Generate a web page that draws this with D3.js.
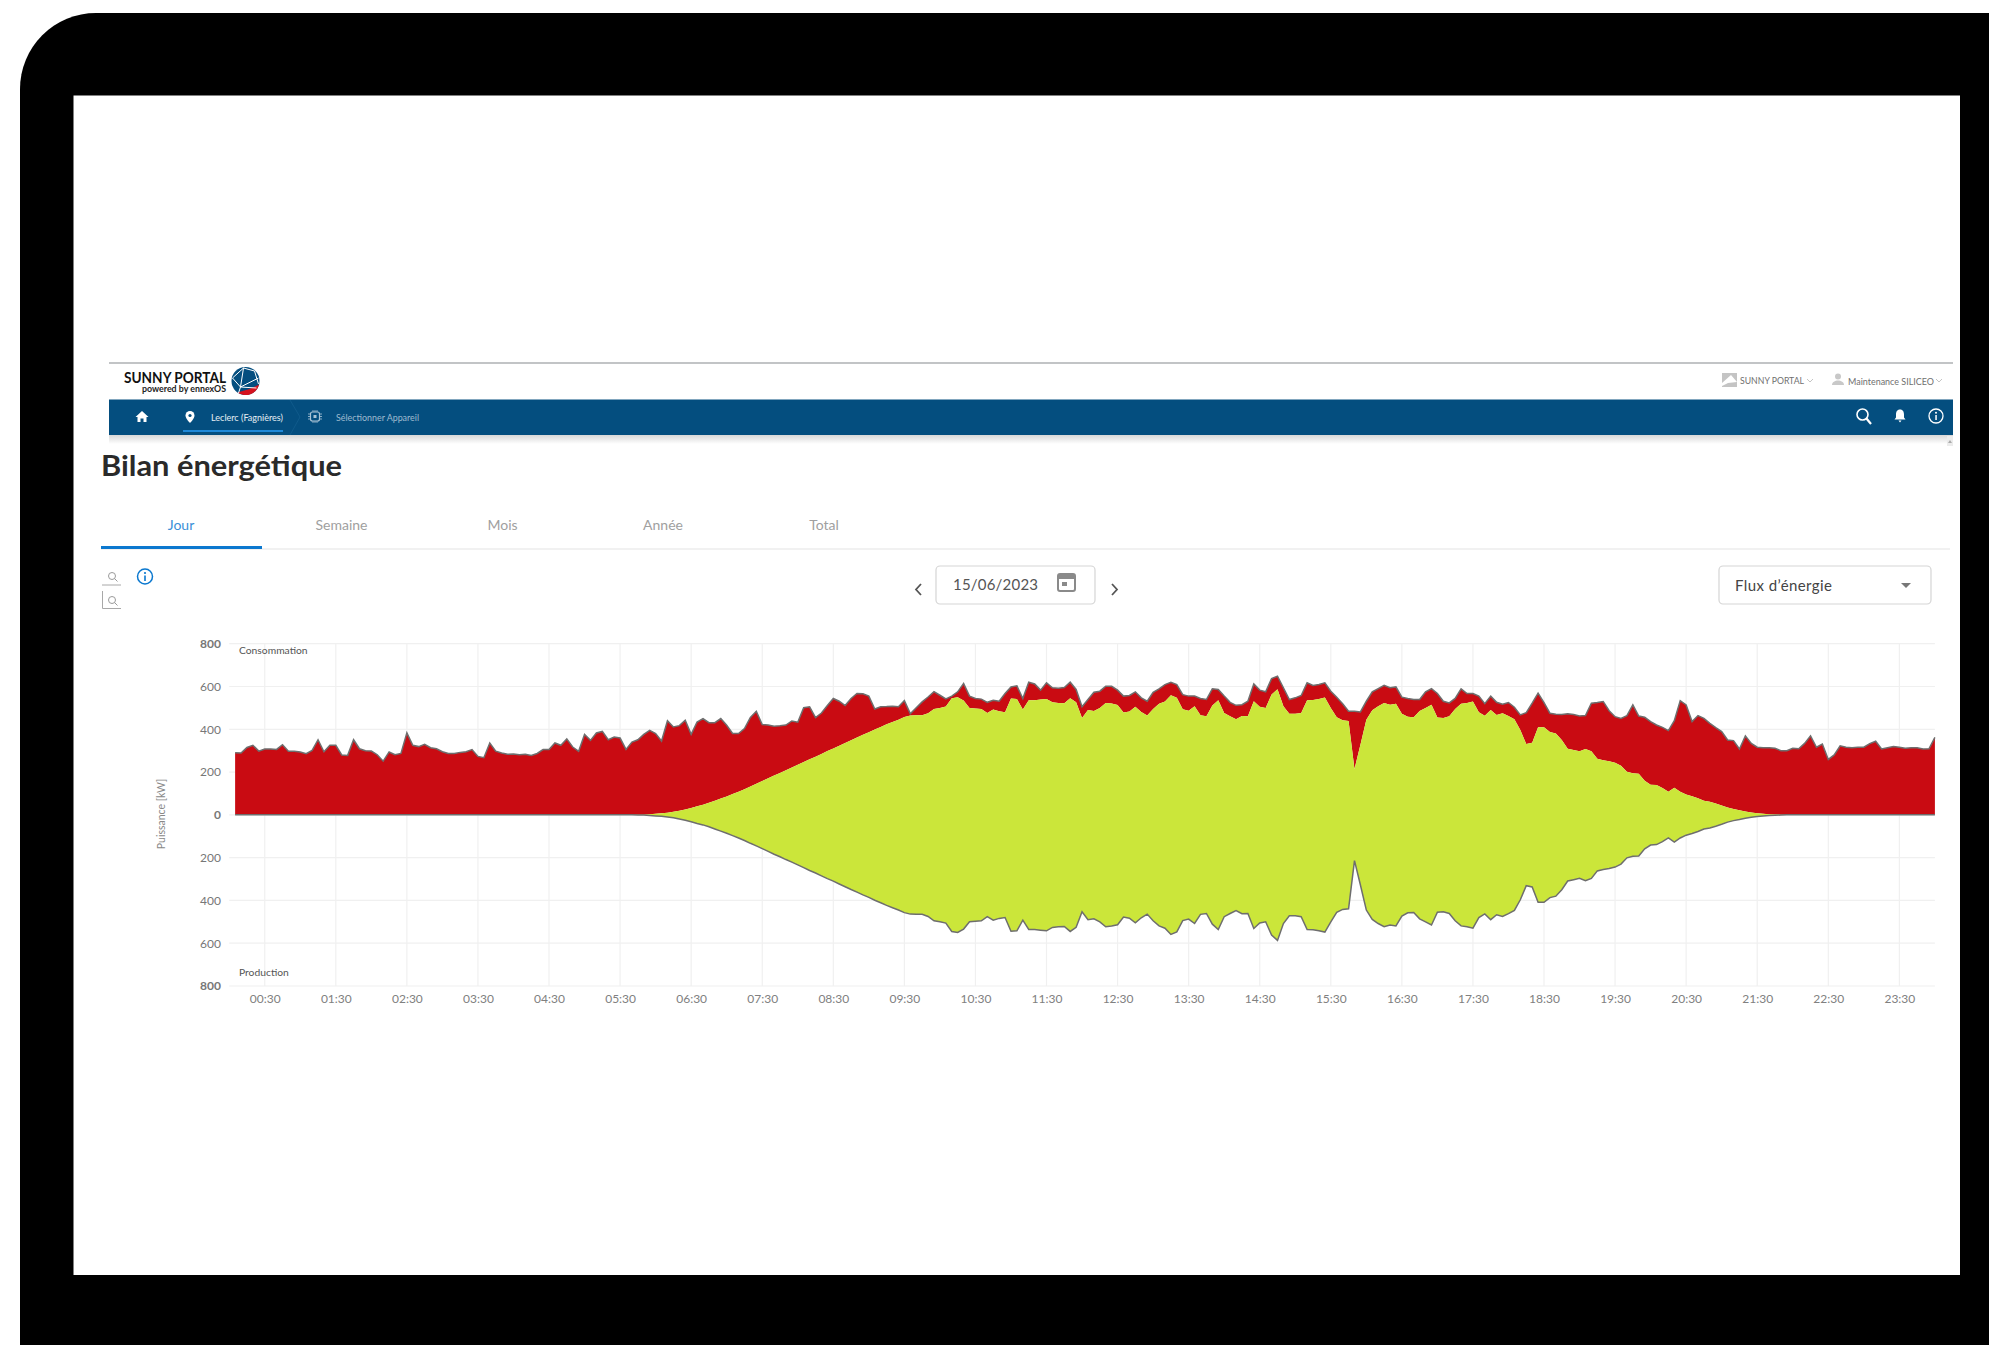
<!DOCTYPE html>
<html lang="fr"><head><meta charset="utf-8"><title>Bilan énergétique</title>
<script src="https://d3js.org/d3.v7.min.js"></script>
<style>html,body{margin:0;padding:0;background:#fff;overflow:hidden}svg{display:block}text{font-family:Lato,"Noto Sans",sans-serif}</style>
</head><body><svg id="c" width="1989" height="1345"></svg>
<script>
const xTickMinutes=[30,90,150,210,270,330,390,450,510,570,630,690,750,810,870,930,990,1050,1110,1170,1230,1290,1350,1410];
const xTickLabels=["00:30","01:30","02:30","03:30","04:30","05:30","06:30","07:30","08:30","09:30","10:30","11:30","12:30","13:30","14:30","15:30","16:30","17:30","18:30","19:30","20:30","21:30","22:30","23:30"];
const yTicks=[800,600,400,200,0,-200,-400,-600,-800];
const tabs=["Jour","Semaine","Mois","Année","Total"];
// kW, one reading every 5 minutes from 00:05
const consumption=[290,289,315,325,298,308,308,306,328,297,297,294,286,301,351,295,325,325,280,278,351,309,300,298,281,251,294,281,287,383,325,319,330,314,309,295,287,287,292,295,305,273,267,336,298,289,283,284,281,283,278,287,305,305,336,325,355,317,297,376,348,383,390,351,364,359,306,340,351,376,395,380,345,440,411,417,442,376,434,450,431,431,450,419,380,380,403,455,484,422,420,414,416,420,439,433,501,505,455,476,511,544,531,511,544,567,566,555,495,505,506,508,505,534,473,501,528,551,576,559,542,555,575,614,555,544,541,526,536,531,567,598,603,544,620,612,583,617,594,592,595,620,586,505,539,573,578,601,601,583,555,558,575,547,531,573,589,609,620,609,562,555,555,544,539,589,586,555,526,512,515,531,612,583,575,637,648,594,539,547,558,617,605,609,617,578,550,519,484,484,481,531,575,590,605,594,598,550,544,539,539,575,590,567,531,523,544,589,567,567,555,520,555,526,517,525,503,467,478,522,569,525,475,470,469,473,469,462,464,522,525,530,487,459,451,464,514,462,456,436,420,409,394,440,534,514,436,464,451,428,408,389,350,347,308,369,334,316,314,314,311,300,300,311,309,334,369,316,331,259,280,323,316,314,316,316,333,344,308,314,319,316,311,314,314,308,309,362];
const production=[0,0,0,0,0,0,0,0,0,0,0,0,0,0,0,0,0,0,0,0,0,0,0,0,0,0,0,0,0,0,0,0,0,0,0,0,0,0,0,0,0,0,0,0,0,0,0,0,0,0,0,0,0,0,0,0,0,0,0,0,0,0,0,0,0,0,0,0,1,1,3,5,7,10,14,19,25,32,40,47,56,66,76,86,97,108,120,133,145,158,171,184,196,209,221,234,247,260,272,285,298,310,323,336,349,361,374,386,399,411,423,434,445,457,464,465,465,475,495,500,506,545,550,534,500,497,495,476,492,484,480,544,542,492,536,536,539,542,526,523,522,545,526,453,490,486,500,523,520,514,478,483,505,481,464,495,519,530,559,547,494,487,508,465,461,511,536,476,461,447,462,461,531,505,500,562,587,508,472,472,476,536,537,542,548,500,456,442,439,214,328,445,489,508,523,515,519,473,458,456,486,500,515,455,453,461,495,519,523,530,480,463,490,467,475,462,447,397,331,337,409,409,387,380,350,309,303,297,308,297,262,255,251,244,230,201,194,192,159,141,139,125,108,127,108,95,87,78,66,61,53,44,34,27,22,16,11,8,5,3,2,1,0,0,0,0,0,0,0,0,0,0,0,0,0,0,0,0,0,0,0,0,0,0,0,0,0,0,0,0];

const minutes=d3.range(consumption.length).map(i=>5+5*i);
const svg=d3.select("#c");
const NAVY="#044e7f",BLUE="#0b78cf";
const T=(x,y,s,size,fill,anchor="start",weight=400)=>svg.append("text").attr("x",x).attr("y",y).attr("font-size",size).attr("fill",fill).attr("text-anchor",anchor).attr("font-weight",weight).text(s);

// device frame
svg.append("rect").attr("x",20).attr("y",13).attr("width",2100).attr("height",1500).attr("rx",76).attr("fill","#000");
svg.append("rect").attr("x",73.5).attr("y",95.5).attr("width",1886.5).attr("height",1179.5).attr("fill","#fff");

// page header
svg.append("line").attr("x1",109).attr("x2",1953).attr("y1",363).attr("y2",363).attr("stroke","#858a8d").attr("stroke-width",1.2);
T(124,383,"SUNNY PORTAL",14.5,"#111","start",700).attr("textLength",102).attr("lengthAdjust","spacingAndGlyphs");
T(226,392,"powered by ennexOS",9.5,"#222","end",700).attr("textLength",84).attr("lengthAdjust","spacingAndGlyphs");
const globe=svg.append("g").attr("transform","translate(245.5,381)");
globe.append("circle").attr("r",14).attr("fill",NAVY);
globe.append("path").attr("d","M-8 11.5A14 14 0 0 0 13.6 3.5L4 8Z").attr("fill","#d5121e");
globe.append("path").attr("d","M-2 -13L-5 6L13 -3M-2 -13L9 -10L13 3M-13 -3L-5 6L-7 12M-5 6L11 7M-2 -13L-13 -3").attr("stroke","#fff").attr("stroke-width",1).attr("fill","none");

T(1740,384,"SUNNY PORTAL",9,"#6f6f6f").attr("textLength",64).attr("lengthAdjust","spacingAndGlyphs");
svg.append("rect").attr("x",1722).attr("y",373).attr("width",15).attr("height",14).attr("fill","#c4c4c4");
svg.append("path").attr("d","M1722 383L1731 375L1737 382L1728 383L1722 386Z").attr("fill","#fff");
svg.append("path").attr("d","M1807 379l3 3l3 -3M1936 379l3 3l3 -3").attr("stroke","#c4c4c4").attr("fill","none");
svg.append("circle").attr("cx",1838).attr("cy",376.5).attr("r",3).attr("fill","#c8c8c8");
svg.append("path").attr("d","M1832 385c0-6 12-6 12 0Z").attr("fill","#c8c8c8");
T(1848,384.5,"Maintenance SILICEO",9,"#6f6f6f").attr("textLength",86).attr("lengthAdjust","spacingAndGlyphs");

// nav bar
const shadow=svg.append("defs").append("linearGradient").attr("id","sh").attr("x2",0).attr("y2",1);
shadow.append("stop").attr("offset",0).attr("stop-color","#d8d8d8");
shadow.append("stop").attr("offset",1).attr("stop-color","#fff");
svg.append("rect").attr("x",109).attr("y",435).attr("width",1844).attr("height",9).attr("fill","url(#sh)");
svg.append("rect").attr("x",109).attr("y",399.5).attr("width",1844).attr("height",35.5).attr("fill",NAVY);
svg.append("path").attr("d","M142 411l-6.5 6h2v5h3v-3.5h3V422h3v-5h2z").attr("fill","#fff");
svg.append("path").attr("d","M190 411a4.5 4.5 0 0 1 4.5 4.5c0 3-4.5 7.500-4.500 7.500s-4.500-4.500-4.500-7.500a4.500 4.500 0 0 1 4.500-4.500z").attr("fill","#fff");
svg.append("circle").attr("cx",190).attr("cy",415.5).attr("r",1.6).attr("fill",NAVY);
T(211,421,"Leclerc (Fagnières)",9.5,"#e6eef4").attr("textLength",72).attr("lengthAdjust","spacingAndGlyphs");
svg.append("rect").attr("x",183).attr("y",430).attr("width",100).attr("height",2).attr("fill","#1e88d8");
svg.append("path").attr("d","M290 400L300 417L290 435").attr("stroke","#0f5a8b").attr("fill","none");
svg.append("rect").attr("x",310.5).attr("y",412).attr("width",9).attr("height",9).attr("rx",2).attr("stroke","#a9c3d5").attr("fill","none").attr("stroke-width",1.2);
svg.append("rect").attr("x",313.5).attr("y",415).attr("width",3).attr("height",3).attr("fill","#a9c3d5");
svg.append("path").attr("d","M308 414h2M308 416.5h2M308 419h2M320 414h2M320 416.5h2M320 419h2M313 410v2M315 410v2M317 410v2M313 421v2M315 421v2M317 421v2").attr("stroke","#a9c3d5").attr("stroke-width",0.8);
T(336,421,"Sélectionner Appareil",9.5,"#9fbbcf").attr("textLength",83).attr("lengthAdjust","spacingAndGlyphs");
svg.append("circle").attr("cx",1862.5).attr("cy",414.5).attr("r",5.5).attr("stroke","#fff").attr("stroke-width",1.6).attr("fill","none");
svg.append("line").attr("x1",1866.5).attr("y1",418.5).attr("x2",1871).attr("y2",424).attr("stroke","#fff").attr("stroke-width",2.2);
svg.append("path").attr("d","M1900 409.5c3 0 4 2.500 4 5v3l1.500 2h-11l1.500-2v-3c0-2.500 1-5 4-5zM1898.500 420.500h3l-1.500 2z").attr("fill","#fff");
svg.append("circle").attr("cx",1936).attr("cy",416).attr("r",7).attr("stroke","#fff").attr("stroke-width",1.3).attr("fill","none");
svg.append("rect").attr("x",1935.3).attr("y",415).attr("width",1.5).attr("height",5).attr("fill","#fff");
svg.append("circle").attr("cx",1936).attr("cy",412.8).attr("r",1).attr("fill","#fff");
svg.append("rect").attr("x",1947).attr("y",436).attr("width",6).attr("height",10).attr("fill","#ececec");
svg.append("path").attr("d","M1948 443l2 -3l2 3z").attr("fill","#aaa");

// title and tabs
T(101,476,"Bilan énergétique",29,"#2a2a2a","start",700).attr("textLength",241).attr("lengthAdjust","spacingAndGlyphs");
const tabX=[181,341.5,502.5,663,824];
tabs.forEach((t,i)=>T(tabX[i],529.5,t,14,i===0?"#3a8fd8":"#a0a0a0","middle",400));
svg.append("line").attr("x1",101).attr("x2",1950).attr("y1",549).attr("y2",549).attr("stroke","#e3e3e3").attr("stroke-width",1.2);
svg.append("rect").attr("x",101).attr("y",546).attr("width",161).attr("height",3).attr("fill",BLUE);

// small controls
const mag=(x,y)=>{svg.append("circle").attr("cx",x).attr("cy",y).attr("r",3.5).attr("stroke","#9a9a9a").attr("fill","none");svg.append("line").attr("x1",x+2.5).attr("y1",y+2.5).attr("x2",x+5.5).attr("y2",y+5.5).attr("stroke","#9a9a9a");};
mag(112,576);mag(112,600);
svg.append("path").attr("d","M102 585H121M102.5 591V608.500H121").attr("stroke","#a8a8a8").attr("fill","none");
svg.append("circle").attr("cx",145).attr("cy",576.5).attr("r",7.5).attr("stroke",BLUE).attr("stroke-width",1.5).attr("fill","none");
svg.append("rect").attr("x",144.2).attr("y",575.5).attr("width",1.6).attr("height",5.5).attr("fill",BLUE);
svg.append("circle").attr("cx",145).attr("cy",573).attr("r",1.1).attr("fill",BLUE);
svg.append("path").attr("d","M921 584L916 589.5L921 595M1112 584L1117 589.5L1112 595").attr("stroke","#555").attr("stroke-width",1.8).attr("fill","none");
svg.append("rect").attr("x",936).attr("y",566).attr("width",159).attr("height",38).attr("rx",4).attr("fill","#fff").attr("stroke","#d5d5d5").attr("stroke-width",1.2);
T(953,590,"15/06/2023",15,"#555").attr("textLength",85);
svg.append("rect").attr("x",1058).attr("y",574).attr("width",17).attr("height",17).attr("rx",2).attr("stroke","#8a8a8a").attr("stroke-width",2).attr("fill","none");
svg.append("rect").attr("x",1058).attr("y",574).attr("width",17).attr("height",5).attr("fill","#8a8a8a");
svg.append("rect").attr("x",1062).attr("y",582).attr("width",5).attr("height",4).attr("fill","#8a8a8a");
svg.append("rect").attr("x",1719).attr("y",566).attr("width",212).attr("height",38).attr("rx",4).attr("fill","#fff").attr("stroke","#d5d5d5").attr("stroke-width",1.2);
T(1735,591,"Flux d’énergie",15,"#444").attr("textLength",97);
svg.append("path").attr("d","M1901 583h10l-5 5z").attr("fill","#777");

// chart
const x=d3.scaleLinear().domain([0,1440]).range([229.2,1934.9]);
const y=d3.scaleLinear().domain([-800,800]).range([986,643.7]);
const grid=svg.append("g");
grid.selectAll("line.h").data(yTicks).join("line").attr("x1",x.range()[0]).attr("x2",x.range()[1]).attr("y1",d=>y(d)).attr("y2",d=>y(d)).attr("stroke","#f0f0f0").attr("stroke-width",1.2);
grid.selectAll("line.v").data(xTickMinutes).join("line").attr("x1",d=>x(d)).attr("x2",d=>x(d)).attr("y1",y(800)).attr("y2",y(-800)).attr("stroke","#f0f0f0").attr("stroke-width",1.2);

const idx=d3.range(minutes.length);
const selfUse=i=>Math.min(consumption[i],production[i]);
const band=(lo,hi)=>d3.area().x(i=>x(minutes[i])).y0(i=>y(lo(i))).y1(i=>y(hi(i)));
const line=(f)=>d3.line().x(i=>x(minutes[i])).y(i=>y(f(i)));
svg.append("path").attr("d",band(selfUse,i=>consumption[i])(idx)).attr("fill","#c90b12");
svg.append("path").attr("d",band(i=>-production[i],selfUse)(idx)).attr("fill","#cbe63a");
svg.append("path").attr("d",line(i=>consumption[i])(idx)).attr("fill","none").attr("stroke","#6e6e6e").attr("stroke-width",1.5);
svg.append("path").attr("d",line(i=>-production[i])(idx)).attr("fill","none").attr("stroke","#6e6e6e").attr("stroke-width",1.5);

const axY=svg.append("g").attr("transform",`translate(221,0)`).call(d3.axisLeft(y).tickValues(yTicks).tickSize(0).tickPadding(0).tickFormat(d=>Math.abs(d)));
axY.select(".domain").remove();
axY.selectAll("text").attr("font-size",12).attr("fill","#777").attr("font-family","Lato").attr("font-weight",d=>(Math.abs(d)===800||d===0)?700:400);
const axX=svg.append("g").attr("transform",`translate(0,${y(-800)+8})`).call(d3.axisBottom(x).tickValues(xTickMinutes).tickSize(0).tickPadding(0).tickFormat((d,i)=>xTickLabels[i]));
axX.select(".domain").remove();
axX.selectAll("text").attr("font-size",12).attr("fill","#808080").attr("font-family","Lato");

T(239,654,"Consommation",10.3,"#555");
T(239,976,"Production",10.3,"#555");
svg.append("text").attr("transform","translate(165,814) rotate(-90)").attr("text-anchor","middle").attr("font-size",10.5).attr("fill","#888").text("Puissance [kW]");
</script></body></html>
